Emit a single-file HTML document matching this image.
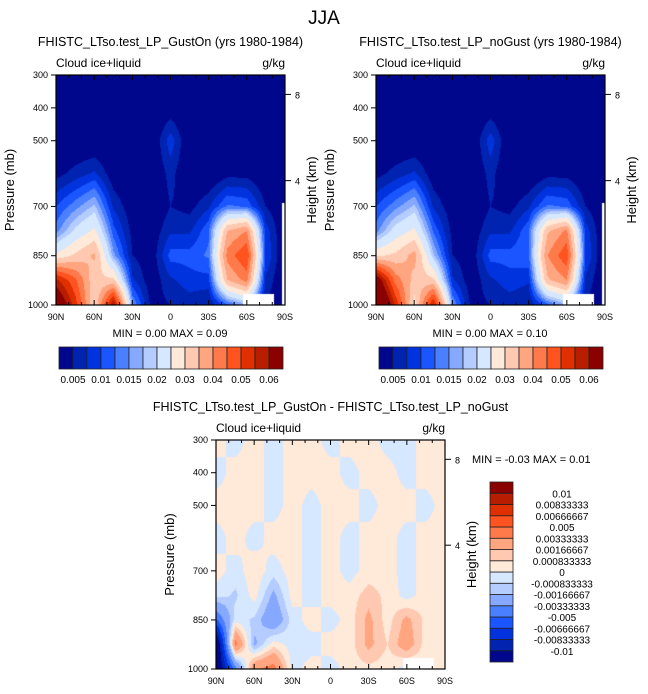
<!DOCTYPE html>
<html><head><meta charset="utf-8">
<style>
body{margin:0;background:#fff;width:648px;height:694px;overflow:hidden;position:relative;font-family:"Liberation Sans",sans-serif}
canvas{position:absolute}
svg{position:absolute;left:0;top:0}
</style></head><body>
<canvas id="c1" width="229" height="230" style="left:56px;top:75px"></canvas>
<canvas id="c2" width="229" height="230" style="left:376px;top:75px"></canvas>
<canvas id="c3" width="229" height="229" style="left:216px;top:440px"></canvas>
<svg id="ov" width="648" height="694" font-family="Liberation Sans, sans-serif"></svg>
<script>
const lats=[90,75,60,45,30,15,0,-15,-30,-45,-60,-75,-90];
const levs=[300,400,500,600,700,775,850,925,1000];
const gustOn=[
[0.002,0.002,0.004,0.003,0.002,0.002,0.004,0.002,0.002,0.002,0.002,0.002,0.002],
[0.002,0.002,0.004,0.002,0.002,0.002,0.003,0.002,0.002,0.002,0.002,0.002,0.002],
[0.002,0.002,0.002,0.002,0.002,0.002,0.009,0.002,0.002,0.002,0.002,0.002,0.002],
[0.004,0.006,0.008,0.003,0.002,0.002,0.006,0.002,0.002,0.004,0.004,0.002,0.002],
[0.010,0.014,0.018,0.007,0.003,0.002,0.005,0.004,0.007,0.013,0.012,0.005,0.002],
[0.014,0.021,0.026,0.011,0.004,0.003,0.007,0.007,0.012,0.035,0.040,0.009,0.002],
[0.026,0.031,0.036,0.016,0.005,0.003,0.011,0.011,0.013,0.042,0.050,0.010,0.002],
[0.056,0.046,0.031,0.031,0.008,0.003,0.007,0.009,0.009,0.035,0.042,0.007,0.002],
[0.070,0.052,0.030,0.060,0.015,0.004,0.005,0.006,0.005,0.012,0.017,0.005,0.002]];
const noGust=[
[0.002,0.002,0.004,0.003,0.002,0.002,0.004,0.002,0.002,0.002,0.002,0.002,0.002],
[0.002,0.002,0.004,0.002,0.002,0.002,0.003,0.002,0.002,0.002,0.002,0.002,0.002],
[0.002,0.002,0.002,0.002,0.002,0.002,0.009,0.002,0.002,0.002,0.002,0.002,0.002],
[0.004,0.006,0.008,0.003,0.002,0.002,0.006,0.002,0.002,0.004,0.004,0.002,0.002],
[0.010,0.014,0.018,0.007,0.003,0.002,0.005,0.004,0.007,0.013,0.012,0.005,0.002],
[0.014,0.022,0.026,0.012,0.004,0.003,0.007,0.007,0.012,0.034,0.041,0.009,0.002],
[0.029,0.031,0.037,0.018,0.005,0.003,0.011,0.011,0.012,0.040,0.049,0.010,0.002],
[0.066,0.043,0.033,0.031,0.008,0.003,0.007,0.009,0.008,0.034,0.040,0.007,0.002],
[0.080,0.054,0.028,0.056,0.015,0.004,0.005,0.006,0.005,0.012,0.017,0.005,0.002]];
const diff=[
[0.0004,-0.0004,0.0004,-0.0004,0.0004,0.0004,-0.0004,0.0004,0.0004,-0.0004,-0.0004,0.0004,0.0004],
[-0.0004,0.0004,0.0004,-0.0004,0.0004,0.0004,0.0004,-0.0004,0.0004,0.0004,-0.0004,0.0004,0.0004],
[0.0004,0.0004,0.0004,-0.0004,0.0004,-0.0004,0.0004,0.0004,-0.0004,0.0004,0.0004,-0.0004,0.0004],
[-0.0004,0.0004,-0.0004,0.0004,0.0004,-0.0004,0.0004,-0.0004,0.0004,0.0004,-0.0004,0.0004,0.0004],
[0.0004,-0.0004,0.0006,-0.0004,0.0004,-0.0004,0.0004,-0.0004,0.0004,0.0004,-0.0004,0.0004,0.0004],
[-0.0004,-0.001,0.0004,-0.002,0.0004,-0.0004,0.0004,0.0004,0.0012,0.0006,-0.0004,0.0004,0.0004],
[-0.005,-0.0004,-0.001,-0.003,-0.0004,0.0004,-0.0004,0.0004,0.002,0.0004,0.002,0.0006,0.0004],
[-0.013,0.004,-0.002,0.0004,-0.0004,-0.0004,0.0004,0.0004,0.002,0.0008,0.0025,0.0004,0.0004],
[-0.013,-0.004,0.003,0.004,-0.0004,0.0004,-0.0004,0.0004,0.0006,0.0004,-0.0004,0.0004,0.0004]];
const boundsA=[0.005,0.0075,0.01,0.0125,0.015,0.0175,0.02,0.025,0.03,0.035,0.04,0.045,0.05,0.055,0.06];
const labelsA=["0.005","0.01","0.015","0.02","0.03","0.04","0.05","0.06"];
const boundsD=[-0.01,-0.00833333,-0.00666667,-0.005,-0.00333333,-0.00166667,-0.000833333,0,0.000833333,0.00166667,0.00333333,0.005,0.00666667,0.00833333,0.01];
const labelsD=["-0.01","-0.00833333","-0.00666667","-0.005","-0.00333333","-0.00166667","-0.000833333","0","0.000833333","0.00166667","0.00333333","0.005","0.00666667","0.00833333","0.01"];
const pal=["#00078c","#0023b0","#0033dd","#1a55ff","#4a80ff","#86a9ff","#b4ccff","#d6e8ff","#ffe9d9","#ffc8b0","#ffa580","#ff7a4a","#ff5320","#e03000","#b81d00","#8b0000"];
const palRGB=pal.map(h=>[parseInt(h.slice(1,3),16),parseInt(h.slice(3,5),16),parseInt(h.slice(5,7),16)]);

function missing(lat,p,full){
  if(lat<-57&&lat>-82&&p>968) return true;
  if(full&&lat<-88&&p>690) return true;
  return false;
}
function render(id,data,bounds,full){
  const c=document.getElementById(id),ctx=c.getContext('2d');
  const W=c.width,H=c.height,img=ctx.createImageData(W,H);
  for(let y=0;y<H;y++){
    const p=300+700*y/(H-1);
    let j=0;while(j<levs.length-2&&p>levs[j+1])j++;
    const tj=(p-levs[j])/(levs[j+1]-levs[j]);
    for(let x=0;x<W;x++){
      const lat=90-180*x/(W-1);
      let fi=(90-lat)/15,i=Math.min(Math.floor(fi),lats.length-2),ti=fi-i;
      const v=(data[j][i]*(1-ti)+data[j][i+1]*ti)*(1-tj)+(data[j+1][i]*(1-ti)+data[j+1][i+1]*ti)*tj;
      let k=0;while(k<bounds.length&&v>=bounds[k])k++;
      const col=missing(lat,p,full)?[255,255,255]:palRGB[k];
      const o=(y*W+x)*4;img.data[o]=col[0];img.data[o+1]=col[1];img.data[o+2]=col[2];img.data[o+3]=255;
    }
  }
  ctx.putImageData(img,0,0);
}
render('c1',gustOn,boundsA,true);
render('c2',noGust,boundsA,true);
render('c3',diff,boundsD,false);

const svg=document.getElementById('ov'),NS="http://www.w3.org/2000/svg";
function el(tag,attrs,text){const e=document.createElementNS(NS,tag);for(const k in attrs)e.setAttribute(k,attrs[k]);if(text!==undefined)e.textContent=text;svg.appendChild(e);return e;}
function txt(x,y,s,size,anchor,name,rot){
  const t=el('text',{x:x,y:y,'font-size':size,'text-anchor':anchor||'start',fill:'#000'},s);
  if(rot)t.setAttribute('transform','rotate(-90 '+x+' '+y+')');
  
  
  return t;
}
txt(324,24,"JJA",19,'middle','main-title');
const xlab=["90N","60N","30N","0","30S","60S","90S"];
const ylab=[300,400,500,700,850,1000];
function axes(x0,y0,W,H,title,pfx){
  const r=el('rect',{x:x0,y:y0,width:W,height:H,fill:'none',stroke:'#000','stroke-width':1.2});
  
  
  txt(x0+W/2,y0-29,title,12.5,'middle',pfx+'-title');
  txt(x0,y0-8,"Cloud ice+liquid",12,'start',pfx+'-variable-label');
  txt(x0+W,y0-8,"g/kg",12,'end',pfx+'-units-label');
  for(let d=0;d<=180;d+=10){
    const x=x0+W*d/180,len=d%30==0?5:3;
    el('line',{x1:x,y1:y0+H,x2:x,y2:y0+H-len,stroke:'#000'});
    el('line',{x1:x,y1:y0,x2:x,y2:y0+len,stroke:'#000'});
  }
  xlab.forEach((s,i)=>{txt(x0+W*i/6,y0+H+15,s,9,'middle',pfx+'-x-tick-label');});
  ylab.forEach(p=>{const y=y0+H*(p-300)/700;
    el('line',{x1:x0,y1:y,x2:x0-5,y2:y,stroke:'#000'});
    txt(x0-8,y+3,String(p),9,'end',pfx+'-y-tick-label');});
  [[8,0.08],[4,0.455]].forEach(a=>{const y=y0+H*a[1]+1;
    el('line',{x1:x0+W,y1:y,x2:x0+W+6,y2:y,stroke:'#000'});
    txt(x0+W+10,y+4,String(a[0]),9,'start',pfx+'-height-tick-label');});
  txt(x0-42,y0+H/2,"Pressure (mb)",13,'middle',pfx+'-y-axis-title',true);
  txt(x0+W+31,y0+H/2,"Height (km)",13,'middle',pfx+'-right-axis-title',true);
}
axes(56,75,229,230,"FHISTC_LTso.test_LP_GustOn (yrs 1980-1984)","gust-on");
axes(376,75,229,230,"FHISTC_LTso.test_LP_noGust (yrs 1980-1984)","no-gust");
axes(216,440,229,229,"FHISTC_LTso.test_LP_GustOn - FHISTC_LTso.test_LP_noGust","diff");
txt(170,337,"MIN =   0.00  MAX =   0.09",11,'middle','gust-on-min-max');
txt(490,337,"MIN =   0.00  MAX =   0.10",11,'middle','no-gust-min-max');
txt(472,463,"MIN =  -0.03  MAX =   0.01",11,'start','diff-min-max');
function hbar(x0,pfx){
  pal.forEach((c,i)=>{const r=el('rect',{x:x0+i*14,y:347,width:14,height:22,fill:c,stroke:'#222','stroke-width':0.8});
    
    });
  labelsA.forEach((s,i)=>{txt(x0+14*(2*i+1),383,s,10,'middle',pfx+'-colorbar-label');});
}
hbar(59,'gust-on');hbar(379,'no-gust');
const bh=11.25;
pal.forEach((c,i)=>{const r=el('rect',{x:490,y:482+(15-i)*bh,width:23,height:bh,fill:c,stroke:'#222','stroke-width':0.8});
  
  });
labelsD.forEach((s,i)=>{txt(562,482+(15-i)*bh+4,s,10,'middle','diff-colorbar-label');});
</script>
</body></html>
